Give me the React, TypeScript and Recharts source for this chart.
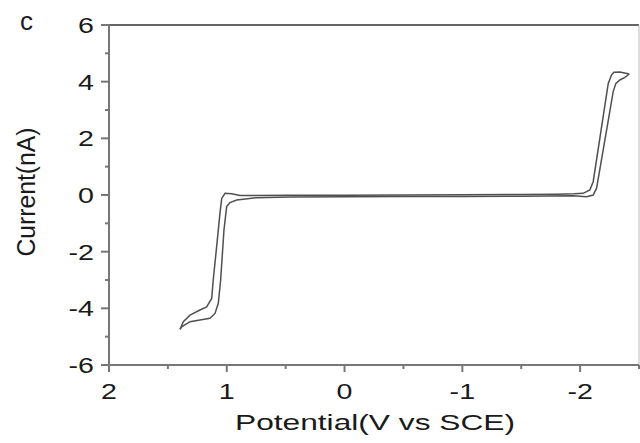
import React from "react"
import { LineChart, Line, XAxis, YAxis, ReferenceLine, Label } from "recharts"

// forward scan: from the anodic tip across to the cathodic tip
const forwardPotential = [1.397, 1.369, 1.312, 1.228, 1.171, 1.128, 1.115, 1.086, 1.058, 1.043, 1.015, 0.958, 0.888, 0.46, 0, -0.5, -1, -1.5, -1.8, -1.95, -2.026, -2.083, -2.111, -2.239, -2.267, -2.287, -2.338, -2.417]
const forwardCurrent = [-4.74, -4.47, -4.24, -4.06, -3.95, -3.65, -3.0, -1.82, -0.65, -0.12, 0.06, 0.04, -0.02, -0.01, -0.01, 0, 0.01, 0.02, 0.03, 0.04, 0.06, 0.18, 0.47, 3.94, 4.24, 4.33, 4.34, 4.27]

// reverse scan: back from the cathodic tip
const reversePotential = [-2.417, -2.38, -2.338, -2.304, -2.281, -2.14, -2.111, -2.055, -1.941, -1.5, -1, -0.5, 0, 0.463, 0.75, 0.916, 0.973, 1.001, 1.024, 1.052, 1.072, 1.1, 1.143, 1.228, 1.312, 1.383, 1.397]
const reverseCurrent = [4.27, 4.15, 4.06, 3.94, 3.65, 0.24, 0, -0.06, -0.03, -0.04, -0.05, -0.05, -0.06, -0.07, -0.1, -0.18, -0.27, -0.41, -1.24, -3.0, -3.82, -4.18, -4.35, -4.41, -4.47, -4.65, -4.74]

const xTicks = [2, 1.5, 1, 0.5, 0, -0.5, -1, -1.5, -2, -2.5]
const xLabels = [2, 1, 0, -1, -2]
const yTicks = [-6, -5, -4, -3, -2, -1, 0, 1, 2, 3, 4, 5, 6]
const yLabels = [-6, -4, -2, 0, 2, 4, 6]

const forwardData = forwardPotential.map((v, i) => ({ v, i: forwardCurrent[i] }))
const reverseData = reversePotential.map((v, i) => ({ v, i: reverseCurrent[i] }))

const FONT = '"Liberation Sans", Arial, sans-serif'
const TEXT = "#1a1a1a"
const AXIS = "#777"

function XTick(props: any) {
  const { x, y, payload } = props
  const major = xLabels.includes(payload.value)
  return (
    <g>
      <line x1={x} x2={x} y1={y} y2={y + (major ? 7 : 4)} stroke={AXIS} strokeWidth={2} />
      {major && (
        <text transform={`translate(${x} ${y + 34}) scale(1.3 1)`} textAnchor="middle" fontSize={22} fontFamily={FONT} fill={TEXT}>
          {payload.value}
        </text>
      )}
    </g>
  )
}

function YTick(props: any) {
  const { x, y, payload } = props
  const major = yLabels.includes(payload.value)
  return (
    <g>
      <line x1={x} x2={x - (major ? 8 : 4)} y1={y} y2={y} stroke={AXIS} strokeWidth={2} />
      {major && (
        <text transform={`translate(${x - 15} ${y + 8}) scale(1.3 1)`} textAnchor="end" fontSize={22} fontFamily={FONT} fill={TEXT}>
          {payload.value}
        </text>
      )}
    </g>
  )
}

export default function App() {
  return (
    <div style={{ position: "absolute", left: 0, top: 0, width: 640, height: 443, background: "#fff" }}>
      <LineChart width={640} height={443} margin={{ top: 25, right: 1, left: 0, bottom: 0 }}>
        <XAxis
          dataKey="v"
          type="number"
          domain={[-2.5, 2]}
          reversed
          ticks={xTicks}
          interval={0}
          allowDataOverflow
          height={78}
          tickSize={0}
          tickMargin={0}
          tickLine={false}
          tick={<XTick />}
          axisLine={{ stroke: AXIS, strokeWidth: 2 }}
        >
          <Label
            content={() => (
              <text x={235} y={430} textLength={280} lengthAdjust="spacingAndGlyphs" fontSize={22} fontFamily={FONT} fill={TEXT}>
                Potential(V vs SCE)
              </text>
            )}
          />
        </XAxis>
        <YAxis
          dataKey="i"
          type="number"
          domain={[-6, 6]}
          ticks={yTicks}
          interval={0}
          allowDataOverflow
          width={109}
          tickSize={0}
          tickMargin={0}
          tickLine={false}
          tick={<YTick />}
          axisLine={{ stroke: AXIS, strokeWidth: 2 }}
        >
          <Label
            content={() => (
              <text transform="translate(35 192) rotate(-90)" textAnchor="middle" textLength={129} lengthAdjust="spacingAndGlyphs" fontSize={25} fontFamily={FONT} fill={TEXT}>
                Current(nA)
              </text>
            )}
          />
        </YAxis>
        <ReferenceLine y={6} stroke="#666" strokeWidth={2} />
        <ReferenceLine x={-2.5} stroke="#bbb" strokeWidth={1} />
        <Line data={forwardData} dataKey="i" type="linear" stroke="#505050" strokeWidth={1.5} dot={false} isAnimationActive={false} />
        <Line data={reverseData} dataKey="i" type="linear" stroke="#505050" strokeWidth={1.5} dot={false} isAnimationActive={false} />
      </LineChart>
      <div style={{ position: "absolute", left: 20, top: 6, fontFamily: FONT, fontSize: 26, color: TEXT, lineHeight: "30px" }}>
        c
      </div>
    </div>
  )
}
